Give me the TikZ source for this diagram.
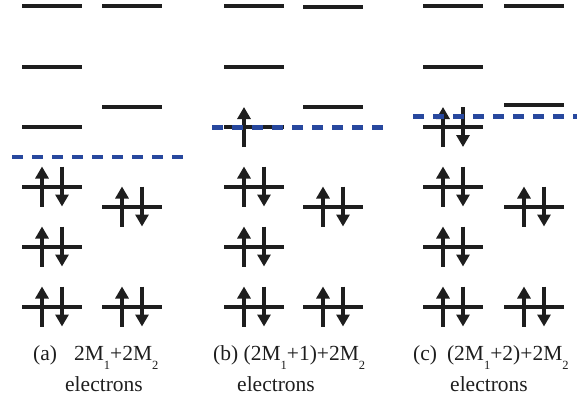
\documentclass[tikz,border=0pt]{standalone}
\usepackage{fontspec}
\setmainfont{Liberation Serif}
\usetikzlibrary{arrows.meta}
\definecolor{fermiblue}{RGB}{40,72,158}
\definecolor{lvlblack}{RGB}{30,30,30}
\newcommand{\sbs}[1]{\raisebox{-9.5pt}{\fontsize{12.5}{12.5}\selectfont #1}}
\tikzset{
  lvl/.style={draw=lvlblack, line width=4pt},
  spin/.style={draw=lvlblack, line width=3.5pt, -{Triangle[length=12pt,width=13pt]}},
  fermi/.style={draw=fermiblue, line width=4.8pt, dash pattern=on 11pt off 9pt},
  lbl/.style={inner sep=0pt, font=\fontsize{21.5}{26}\selectfont, text=lvlblack},
  pics/level/.style={code={\draw[lvl] (-30,0) -- (30,0);}},
  pics/pair/.style={code={
    \draw[lvl] (-30,0) -- (30,0);
    \draw[spin] (-10,20) -- (-10,-20);
    \draw[spin] (10,-20) -- (10,20);}},
  pics/single/.style={code={
    \draw[lvl] (-30,0) -- (30,0);
    \draw[spin] (-10,20) -- (-10,-20);}}
}
\begin{document}
\begin{tikzpicture}[x=1pt,y=-1pt]
\useasboundingbox (0,0) rectangle (577,401);
% panel (a)
\foreach \y in {6.5,67,127} \pic at (52,\y) {level};
\foreach \y in {186.5,246.5,306.5} \pic at (52,\y) {pair};
\foreach \y in {6.5,106.5} \pic at (132,\y) {level};
\foreach \y in {206.5,306.5} \pic at (132,\y) {pair};
\draw[fermi] (12,157) -- (183,157);
% panel (b)
\foreach \y in {6.5,67} \pic at (254,\y) {level};
\pic at (254,127) {single};
\foreach \y in {186.5,246.5,306.5} \pic at (254,\y) {pair};
\foreach \y in {7.5,106.5} \pic at (333,\y) {level};
\foreach \y in {206.5,306.5} \pic at (333,\y) {pair};
\draw[fermi] (212,127.3) -- (383,127.3);
% panel (c)
\foreach \y in {6.5,67} \pic at (453,\y) {level};
\foreach \y in {127,186.5,246.5,306.5} \pic at (453,\y) {pair};
\foreach \y in {6.5,104.5} \pic at (534,\y) {level};
\foreach \y in {206.5,306.5} \pic at (534,\y) {pair};
\draw[fermi] (413,116.7) -- (580,116.7);
% labels
\node[lbl, anchor=base west] (la1) at (33,360) {(a)\hspace{17pt}2M\sbs{1}+2M\sbs{2}};
\node[lbl, anchor=base] (la2) at (104,391) {electrons};
\node[lbl, anchor=base west] (lb1) at (213,360) {(b) (2M\sbs{1}+1)+2M\sbs{2}};
\node[lbl, anchor=base] (lb2) at (276,391) {electrons};
\node[lbl, anchor=base west] (lc1) at (413,360) {(c)\hspace{10pt}(2M\sbs{1}+2)+2M\sbs{2}};
\node[lbl, anchor=base] (lc2) at (489,391) {electrons};
\end{tikzpicture}
\end{document}
